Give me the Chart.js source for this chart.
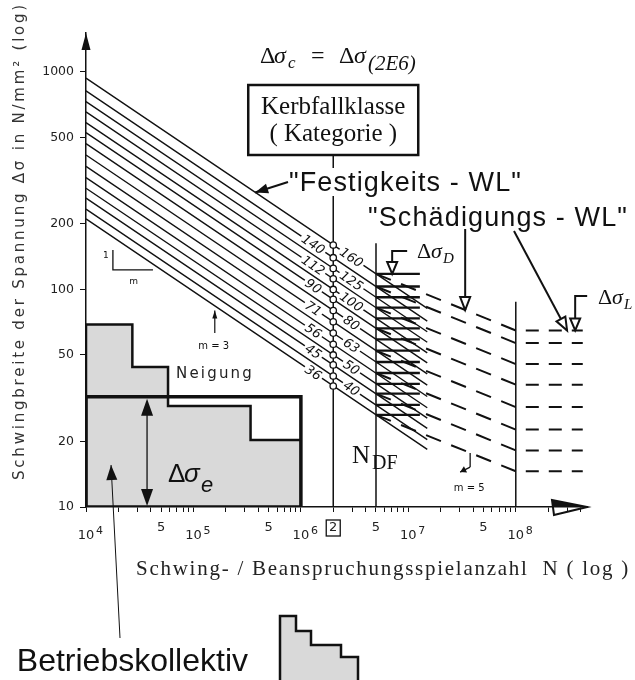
<!DOCTYPE html>
<html>
<head>
<meta charset="utf-8">
<script src="https://cdn.jsdelivr.net/npm/chart.js@4.4.0/dist/chart.umd.min.js"></script>
<style>
  html, body { margin: 0; padding: 0; background: #fff; }
  #wrap { width: 635px; height: 680px; position: relative; }
</style>
</head>
<body>
<div id="wrap"><canvas id="c" width="635" height="680"></canvas></div>
<script>
const kategorien = [160, 140, 125, 112, 100, 90, 80, 71, 63, 56, 50, 45, 40, 36]
const sigmaBei1e4 = [936, 819, 731, 655, 585, 526, 468, 415, 368, 327, 292, 263, 234, 211]
const sigmaLinienEnde = [81.8, 71.5, 63.9, 57.2, 51.1, 46.0, 40.9, 36.3, 32.2, 28.6, 25.6, 23.0, 20.4, 18.4]
const sigmaD = [117.9, 103.2, 92.1, 82.5, 73.7, 66.3, 59.0, 52.3, 46.4, 41.3, 36.8, 33.2, 29.5, 26.5]

// "Schädigungs-WL" (m = 5, gestrichelt) – im Bild nur für diese Klassen sichtbar
const schaedigungsKat = [160, 140, 112, 90, 71, 56, 45, 36]
const sigmaDSchaed = [117.9, 103.2, 82.5, 66.3, 52.3, 41.3, 33.2, 26.5]
const sigmaL = [64.8, 56.7, 45.4, 36.5, 28.8, 22.7, 18.2, 14.6]

// Betriebskollektiv (Stufen)
const kollektivN = [1e4, 1e4, 2.7e4, 5.8e4, 3.4e5, 1e6]
const kollektivSigma = [10, 69, 44, 29.1, 20.3, 20.3]
const sigmaE = 32.1

const nWerte = { start: 1e4, c: 2e6, d: 5e6, linienEnde: 1.5e7, schraffurEnde: 1.28e7, l: 1e8, ende: 4.2e8 }
const senkrechte = [[2e6, 415], [5e6, 163], [1e8, 87.7]]

const yTicks = [10, 20, 50, 100, 200, 500, 1000]
const xTickLabels = { 1e4: "10", 5e4: "5", 1e5: "10", 5e5: "5", 1e6: "10", 2e6: "2", 5e6: "5", 1e7: "10", 5e7: "5", 1e8: "10" }
const xExponenten = { 1e4: "4", 1e5: "5", 1e6: "6", 1e7: "7", 1e8: "8" }

const schwarz = "#111"

function segmente(paare) {
  const out = []
  paare.forEach(([a, b]) => out.push(a, b, { x: b.x, y: null }))
  return out
}

const festigkeit = segmente(kategorien.map((k, i) => [
  { x: nWerte.start, y: sigmaBei1e4[i] }, { x: nWerte.linienEnde, y: sigmaLinienEnde[i] }
]))
const schraffur = segmente(sigmaD.map(s => [{ x: nWerte.d, y: s }, { x: nWerte.schraffurEnde, y: s }]))
const schaedigung = segmente(schaedigungsKat.map((k, i) => [
  { x: nWerte.d, y: sigmaDSchaed[i] }, { x: nWerte.l, y: sigmaL[i] }
]))
const dauer = segmente(sigmaL.map(s => [{ x: nWerte.l, y: s }, { x: nWerte.ende, y: s }]))
const linienSenkrecht = segmente(senkrechte.map(([n, s]) => [{ x: n, y: 10 }, { x: n, y: s }]))
const kollektiv = kollektivN.map((n, i) => ({ x: n, y: kollektivSigma[i] }))
const boxE = [
  { x: nWerte.start, y: 10 }, { x: nWerte.start, y: sigmaE }, { x: 1e6, y: sigmaE },
  { x: 1e6, y: 10 }, { x: nWerte.start, y: 10 }
]
const kreise = kategorien.map(k => ({ x: nWerte.c, y: k }))

function spitze(ctx, fx, fy, tx, ty, len, halb, hohl) {
  const a = Math.atan2(ty - fy, tx - fx)
  const bx = tx - Math.cos(a) * len, by = ty - Math.sin(a) * len
  const nx = -Math.sin(a) * halb, ny = Math.cos(a) * halb
  ctx.beginPath()
  ctx.moveTo(tx, ty)
  ctx.lineTo(bx + nx, by + ny)
  ctx.lineTo(bx - nx, by - ny)
  ctx.closePath()
  if (hohl) {
    ctx.fillStyle = "#fff"; ctx.fill()
    ctx.lineWidth = 2; ctx.stroke()
  } else {
    ctx.fillStyle = schwarz; ctx.fill()
  }
}

function pfeil(ctx, fx, fy, tx, ty, opt = {}) {
  ctx.beginPath()
  ctx.moveTo(fx, fy)
  ctx.lineTo(tx, ty)
  ctx.lineWidth = opt.w || 1.5
  ctx.stroke()
  spitze(ctx, fx, fy, tx, ty, opt.len || 11, opt.halb || 4, opt.hohl)
}

function linie(ctx, pts, w) {
  ctx.beginPath()
  ctx.moveTo(pts[0][0], pts[0][1])
  pts.slice(1).forEach(p => ctx.lineTo(p[0], p[1]))
  ctx.lineWidth = w
  ctx.stroke()
}

function text(ctx, str, x, y, font, opt = {}) {
  ctx.save()
  ctx.font = font
  ctx.fillStyle = opt.color || schwarz
  ctx.textAlign = opt.align || "left"
  ctx.textBaseline = opt.baseline || "alphabetic"
  if (opt.width) {
    const w = ctx.measureText(str).width
    ctx.letterSpacing = ((opt.width - w) / str.length) + "px"
  }
  ctx.fillText(str, x, y)
  ctx.restore()
}

const anmerkungen = {
  id: "anmerkungen",
  afterDatasetDraw(chart, args) {
    if (args.index !== 2) return
    const ctx = chart.ctx, X = v => chart.scales.x.getPixelForValue(v), Y = v => chart.scales.y.getPixelForValue(v)
    kategorien.forEach((k, i) => {
      const c = { x: X(nWerte.c), y: Y(k) }
      const s = { x: X(nWerte.start), y: Y(sigmaBei1e4[i]) }
      const a = Math.atan2(c.y - s.y, c.x - s.x)
      const d = i % 2 === 0 ? 22 : -24
      ctx.save()
      ctx.translate(c.x + Math.cos(a) * d, c.y + Math.sin(a) * d)
      ctx.rotate(a)
      ctx.font = 'italic 13px "DejaVu Sans"'
      const w = ctx.measureText(String(k)).width
      ctx.fillStyle = "#fff"
      ctx.fillRect(-w / 2 - 2, -5, w + 4, 10)
      ctx.fillStyle = schwarz
      ctx.textAlign = "center"
      ctx.textBaseline = "middle"
      ctx.fillText(String(k), 0, 1)
      ctx.restore()
    })
  },
  afterDraw(chart) {
    const ctx = chart.ctx, ca = chart.chartArea
    const X = v => chart.scales.x.getPixelForValue(v), Y = v => chart.scales.y.getPixelForValue(v)
    ctx.save()
    ctx.strokeStyle = schwarz
    ctx.fillStyle = schwarz
    ctx.lineJoin = "miter"

    // Achsenpfeile
    spitze(ctx, ca.left, ca.top + 20, ca.left, ca.top, 17, 4.5)
    const ay = Y(10)
    ctx.beginPath()
    ctx.moveTo(ca.right, ay)
    ctx.lineTo(ca.right - 35, ay - 7)
    ctx.lineTo(ca.right - 33, ay + 8)
    ctx.closePath()
    ctx.lineWidth = 2
    ctx.stroke()
    ctx.beginPath()
    ctx.moveTo(ca.right, ay)
    ctx.lineTo(ca.right - 35, ay - 7)
    ctx.lineTo(ca.right - 34, ay)
    ctx.closePath()
    ctx.fill()

    // Exponenten der Dekaden und Kästchen um die "2"
    Object.keys(xExponenten).forEach(k => {
      text(ctx, xExponenten[k], X(Number(k)) + 10, 534, '11px "DejaVu Sans"', { color: "#222" })
    })
    ctx.lineWidth = 1.3
    ctx.strokeRect(X(2e6) - 7, 520, 14, 16)

    // Achsentitel
    ctx.save()
    ctx.translate(20, 241)
    ctx.rotate(-Math.PI / 2)
    text(ctx, "Schwingbreite der Spannung Δσ in N/mm² (log)", 0, 0, '15px "DejaVu Sans"',
      { align: "center", baseline: "middle", width: 478, color: "#333" })
    ctx.restore()
    text(ctx, "Schwing- / Beanspruchungsspielanzahl  N ( log )", 136, 575, '21px "Liberation Serif"',
      { width: 494, color: "#222" })

    // Formel oben
    const serif = '"Liberation Serif"'
    text(ctx, "Δ", 260, 63, "24px " + serif)
    text(ctx, "σ", 274, 63, "italic 24px " + serif)
    text(ctx, "c", 288, 68, "italic 17px " + serif)
    text(ctx, "=", 311, 63, "24px " + serif)
    text(ctx, "Δ", 339, 63, "24px " + serif)
    text(ctx, "σ", 354, 63, "italic 24px " + serif)
    text(ctx, "(2E6)", 368, 70, "italic 21px " + serif)

    // Kerbfallklasse-Kasten
    const bx = X(nWerte.c)
    ctx.lineWidth = 2.5
    ctx.fillStyle = "#fff"
    ctx.fillRect(bx - 85, 85, 170, 70)
    ctx.strokeRect(bx - 85, 85, 170, 70)
    text(ctx, "Kerbfallklasse", bx, 114, "25px " + serif, { align: "center" })
    text(ctx, "( Kategorie )", bx, 141, "25px " + serif, { align: "center" })

    // "Festigkeits - WL"
    ctx.fillStyle = "#fff"
    ctx.fillRect(289, 168, 236, 28)
    text(ctx, "\"Festigkeits - WL\"", 289, 191, '27px "Liberation Sans"', { width: 233 })
    ctx.strokeStyle = schwarz
    pfeil(ctx, 288, 182, X(3.75e5), Y(279), { len: 13, halb: 5, w: 2 })

    // "Schädigungs - WL"
    text(ctx, "\"Schädigungs - WL\"", 368, 226, '27px "Liberation Sans"', { width: 260 })
    pfeil(ctx, X(3.38e7), 229, X(3.38e7), Y(80.4), { len: 13, halb: 5, hohl: true, w: 2 })
    pfeil(ctx, 514, 231, X(3.0e8), Y(64.8), { len: 13, halb: 5, hohl: true, w: 2 })

    // Delta sigma_D
    const dx = X(7.07e6), dy = Y(117.9)
    linie(ctx, [[dx + 15, 251], [dx, 251], [dx, dy - 10]], 2)
    spitze(ctx, dx, dy - 20, dx, dy, 12, 5, true)
    text(ctx, "Δ", 417, 258, "22px " + serif)
    text(ctx, "σ", 431, 258, "italic 22px " + serif)
    text(ctx, "D", 443, 263, "italic 15px " + serif)

    // Delta sigma_L
    const lx = X(3.57e8), ly = Y(64.8)
    linie(ctx, [[lx + 12, 296], [lx, 296], [lx, ly - 10]], 2)
    spitze(ctx, lx, ly - 20, lx, ly, 12, 5, true)
    text(ctx, "Δ", 598, 304, "22px " + serif)
    text(ctx, "σ", 612, 304, "italic 22px " + serif)
    text(ctx, "L", 624, 309, "italic 15px " + serif)

    // N_DF
    text(ctx, "N", 352, 463, "25px " + serif)
    text(ctx, "DF", 372, 469, "20px " + serif)

    // m = 5
    const mx = X(3.76e7), my = Y(17.7)
    linie(ctx, [[mx, my], [mx, my + 14]], 1.3)
    pfeil(ctx, mx, my + 14, mx - 10, my + 19, { len: 6, halb: 3.5, w: 1.3 })
    text(ctx, "m = 5", mx - 1, 491, '10px "DejaVu Sans"', { align: "center" })

    // Steigungsdreieck 1 : m
    linie(ctx, [[X(1.78e4), Y(152)], [X(1.78e4), Y(123)], [X(4.2e4), Y(123)]], 1.3)
    text(ctx, "1", X(1.78e4) - 10, 258, '9px "DejaVu Sans"')
    text(ctx, "m", X(2.75e4) - 4, 284, '9px "DejaVu Sans"')

    // m = 3 / Neigung
    pfeil(ctx, X(1.58e5), Y(63), X(1.58e5), Y(80), { len: 8, halb: 2.5, w: 1.2 })
    text(ctx, "m = 3", X(1.58e5) - 1, 349, '10px "DejaVu Sans"', { align: "center" })
    text(ctx, "Neigung", 176, 378, '15px "DejaVu Sans"', { width: 78, color: "#222" })

    // Delta sigma_e Doppelpfeil
    const ex = X(3.7e4)
    linie(ctx, [[ex, Y(10) - 14], [ex, Y(sigmaE) + 14]], 1.3)
    spitze(ctx, ex, Y(10) - 20, ex, Y(10) - 1, 17, 6)
    spitze(ctx, ex, Y(sigmaE) + 20, ex, Y(sigmaE) + 2, 17, 6)
    text(ctx, "Δ", 168, 482, '26px "Liberation Sans"')
    text(ctx, "σ", 184, 482, 'italic 26px "Liberation Sans"')
    text(ctx, "e", 201, 492, 'italic 22px "Liberation Sans"')

    // Betriebskollektiv
    pfeil(ctx, 120, 638, X(1.71e4), Y(15.6), { len: 15, halb: 5.5, w: 1 })
    text(ctx, "Betriebskollektiv", 248, 671, '32px "Liberation Sans"', { align: "right" })
    ctx.beginPath()
    ctx.moveTo(280, 616); ctx.lineTo(296, 616); ctx.lineTo(296, 631); ctx.lineTo(311, 631)
    ctx.lineTo(311, 645); ctx.lineTo(341, 645); ctx.lineTo(341, 657); ctx.lineTo(358, 657)
    ctx.lineTo(358, 684); ctx.lineTo(280, 684); ctx.closePath()
    ctx.fillStyle = "#d9d9d9"
    ctx.fill()
    ctx.lineWidth = 2.5
    ctx.stroke()

    ctx.restore()
  }
}

const linieDs = (data, extra) => Object.assign({
  data, showLine: true, pointRadius: 0, borderColor: schwarz, borderWidth: 1.4, fill: false
}, extra)

new Chart(document.getElementById("c"), {
  type: "scatter",
  data: {
    datasets: [
      { data: kreise, pointRadius: 3.2, pointBackgroundColor: "#fff", pointBorderColor: schwarz, pointBorderWidth: 1.3 },
      linieDs(boxE, { borderWidth: 3.5 }),
      linieDs(festigkeit),
      linieDs(schraffur, { borderWidth: 2.3 }),
      linieDs(schaedigung, { borderDash: [16, 11], borderWidth: 2 }),
      linieDs(dauer, { borderDash: [13, 10], borderDashOffset: 13, borderWidth: 2 }),
      linieDs(linienSenkrecht, { borderWidth: 1.5 }),
      linieDs(kollektiv, { stepped: true, fill: "start", backgroundColor: "#d9d9d9", borderWidth: 2.5 })
    ]
  },
  options: {
    responsive: false,
    animation: false,
    devicePixelRatio: 1,
    layout: { padding: { left: 0, top: 33, right: 48, bottom: 0 } },
    plugins: { legend: { display: false }, tooltip: { enabled: false } },
    scales: {
      x: {
        type: "logarithmic",
        min: 1e4,
        max: 4.6e8,
        border: { color: schwarz, width: 1.5 },
        grid: { drawOnChartArea: false, tickLength: 5, color: schwarz },
        afterBuildTicks(s) {
          const t = []
          for (let d = 4; d <= 8; d++) {
            for (let k = 1; k < 10; k++) {
              const v = k * 10 ** d
              if (v <= 4.2e8) t.push({ value: v })
            }
          }
          s.ticks = t
        },
        afterFit(s) { s.height = 173 },
        ticks: {
          autoSkip: false,
          maxRotation: 0,
          padding: 8,
          color: "#222",
          font: c => ({
            family: "DejaVu Sans",
            size: 13,
            lineHeight: (xTickLabels[c.tick && c.tick.value] || "") === "10" ? 2.4 : 1.2
          }),
          callback: v => xTickLabels[v] || ""
        }
      },
      y: {
        type: "logarithmic",
        min: 10,
        max: 1510,
        border: { color: schwarz, width: 1.5 },
        grid: { drawOnChartArea: false, tickLength: 6, color: schwarz },
        afterBuildTicks(s) { s.ticks = yTicks.map(v => ({ value: v })) },
        afterFit(s) { s.width = 86 },
        ticks: {
          padding: 6,
          color: "#222",
          font: { family: "DejaVu Sans", size: 12.5 },
          callback: v => String(v)
        }
      }
    }
  },
  plugins: [anmerkungen]
})
</script>
</body>
</html>
